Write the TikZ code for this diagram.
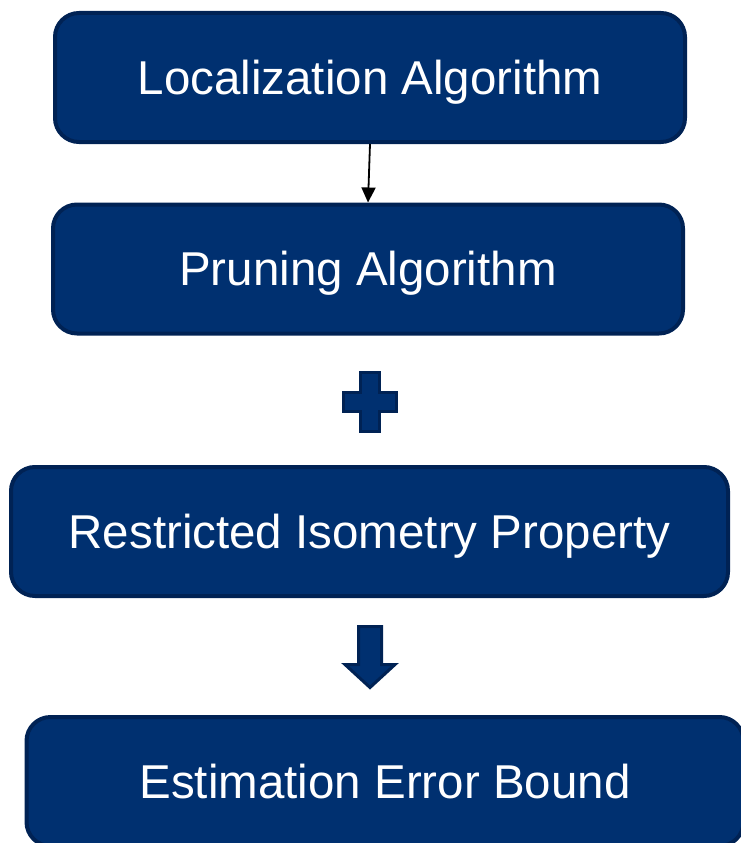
\documentclass[tikz,border=0pt]{standalone}
\usepackage{fontspec}
\setmainfont{Liberation Sans}
\usetikzlibrary{arrows.meta}

\definecolor{boxblue}{RGB}{0,48,112}
\definecolor{boxedge}{RGB}{0,34,84}

\tikzset{
  block/.style={draw=boxedge, line width=4pt, fill=boxblue, rounded corners=24pt,
    text=white, minimum width=#1, minimum height=129pt, inner sep=0pt,
    text height=33pt, text depth=0pt,
    font=\fontsize{47.5}{57}\selectfont},
  block/.default=630pt,
  glyph/.style={draw=boxedge, line width=3pt, fill=boxblue, line join=miter}
}

\begin{document}
\begin{tikzpicture}[x=1pt,y=-1pt]
    \useasboundingbox (0,0) rectangle (741,843);
    \clip (0,0) rectangle (741,843);

    \node[block]       (loc)   at (370,77.5)   {Localization Algorithm};
    \node[block]       (prune) at (368,269)    {Pruning Algorithm};
    \node[block=717pt] (rip)   at (369.5,531.5) {Restricted Isometry Property};
    \node[block=717pt] (bound) at (385,781.5)  {Estimation Error Bound};

    \draw[line width=1.8pt, -{Triangle[length=15pt,width=14pt]}] (loc.south) -- (prune.north);

    % plus sign and block arrow
    \coordinate (plus) at (370,402);
    \coordinate (down) at (370,626.5);
    \draw[glyph] (plus) ++(-9.5,-29.5) -- ++(19,0) -- ++(0,20) -- ++(17,0) -- ++(0,19)
        -- ++(-17,0) -- ++(0,20) -- ++(-19,0) -- ++(0,-20) -- ++(-17,0) -- ++(0,-19)
        -- ++(17,0) -- cycle;
    \draw[glyph] (down) ++(-11.5,0) -- ++(23,0) -- ++(0,38) -- ++(13.5,0) -- ++(-25,23)
        -- ++(-25,-23) -- ++(13.5,0) -- cycle;
\end{tikzpicture}
\end{document}
